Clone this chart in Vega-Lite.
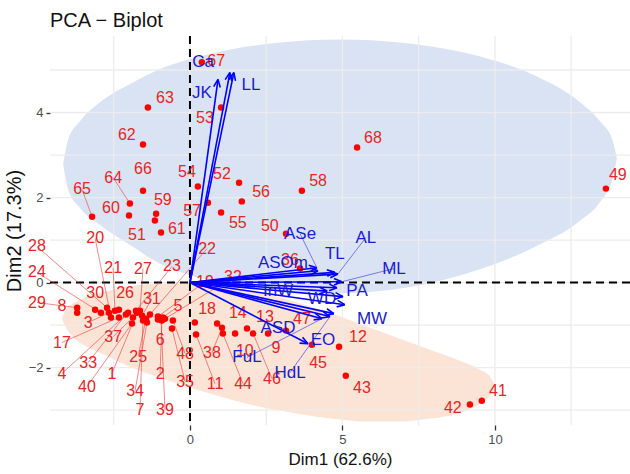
{
  "$schema": "https://vega.github.io/schema/vega-lite/v6.json",
  "autosize": "none",
  "width": 580,
  "height": 389,
  "padding": {"left": 50, "top": 36, "right": 0, "bottom": 49},
  "background": "white",
  "title": {"text": "PCA − Biplot", "anchor": "start", "frame": "group", "fontSize": 20, "fontWeight": "normal", "font": "Liberation Sans", "color": "#111111", "offset": 4},
  "config": {
    "view": {"stroke": null},
    "font": "Liberation Sans",
    "axis": {"grid": false, "domain": false, "labelColor": "#4d4d4d", "labelFontSize": 13, "labelFont": "Liberation Sans", "tickColor": "#333333", "tickWidth": 1.3, "titleFont": "Liberation Sans", "titleFontWeight": "normal", "titleColor": "#111111"}
  },
  "datasets": {
    "pts": [
      {"id": "1", "x": -1.74, "y": -0.71, "lx": -2.56, "ly": -2.14},
      {"id": "2", "x": -0.92, "y": -0.89, "lx": -0.98, "ly": -2.14},
      {"id": "3", "x": -2.66, "y": -0.71, "lx": -3.34, "ly": -0.94},
      {"id": "4", "x": -2.03, "y": -0.71, "lx": -4.20, "ly": -2.14},
      {"id": "5", "x": -0.89, "y": -0.82, "lx": -0.39, "ly": -0.56},
      {"id": "6", "x": -1.05, "y": -0.87, "lx": -0.98, "ly": -1.36},
      {"id": "7", "x": -1.54, "y": -0.89, "lx": -1.64, "ly": -2.99},
      {"id": "8", "x": -3.70, "y": -0.71, "lx": -4.20, "ly": -0.56},
      {"id": "9", "x": 2.56, "y": -1.2, "lx": 2.82, "ly": -1.53},
      {"id": "10", "x": 1.48, "y": -1.2, "lx": 1.8, "ly": -1.6},
      {"id": "11", "x": 0.2, "y": -1.22, "lx": 0.82, "ly": -2.38},
      {"id": "12", "x": 4.89, "y": -1.51, "lx": 5.51, "ly": -1.29},
      {"id": "13", "x": 1.87, "y": -1.08, "lx": 2.46, "ly": -0.8},
      {"id": "14", "x": 0.89, "y": -0.96, "lx": 1.57, "ly": -0.71},
      {"id": "17", "x": -2.33, "y": -0.82, "lx": -4.20, "ly": -1.41},
      {"id": "18", "x": 0.16, "y": -0.94, "lx": 0.56, "ly": -0.61},
      {"id": "19", "x": -1.05, "y": -0.80, "lx": 0.49, "ly": 0.02},
      {"id": "20", "x": -2.59, "y": -0.82, "lx": -3.11, "ly": 1.04},
      {"id": "21", "x": -2.46, "y": -0.66, "lx": -2.52, "ly": 0.35},
      {"id": "22", "x": -1.31, "y": -0.75, "lx": 0.56, "ly": 0.8},
      {"id": "23", "x": -1.77, "y": -0.66, "lx": -0.59, "ly": 0.38},
      {"id": "24", "x": -2.92, "y": -0.71, "lx": -5.02, "ly": 0.24},
      {"id": "25", "x": -1.44, "y": -0.85, "lx": -1.70, "ly": -1.74},
      {"id": "26", "x": -2.33, "y": -0.64, "lx": -2.13, "ly": -0.24},
      {"id": "27", "x": -1.64, "y": -0.66, "lx": -1.54, "ly": 0.33},
      {"id": "28", "x": -2.72, "y": -0.59, "lx": -5.02, "ly": 0.85},
      {"id": "29", "x": -3.70, "y": -0.59, "lx": -5.02, "ly": -0.47},
      {"id": "30", "x": -3.11, "y": -0.64, "lx": -3.11, "ly": -0.24},
      {"id": "31", "x": -1.57, "y": -0.78, "lx": -1.25, "ly": -0.38},
      {"id": "32", "x": -0.82, "y": -0.85, "lx": 1.41, "ly": 0.12},
      {"id": "33", "x": -2.10, "y": -0.75, "lx": -3.34, "ly": -1.88},
      {"id": "34", "x": -1.41, "y": -0.94, "lx": -1.80, "ly": -2.54},
      {"id": "35", "x": -0.59, "y": -1.08, "lx": -0.16, "ly": -2.33},
      {"id": "36", "x": 3.61, "y": 0.33, "lx": 3.28, "ly": 0.52},
      {"id": "37", "x": -1.87, "y": -0.82, "lx": -2.52, "ly": -1.27},
      {"id": "38", "x": 1.05, "y": -1.06, "lx": 0.72, "ly": -1.65},
      {"id": "39", "x": -0.95, "y": -0.85, "lx": -0.82, "ly": -2.99},
      {"id": "40", "x": -1.90, "y": -0.96, "lx": -3.38, "ly": -2.45},
      {"id": "41", "x": 9.57, "y": -2.78, "lx": 10.1, "ly": -2.54},
      {"id": "42", "x": 9.18, "y": -2.87, "lx": 8.62, "ly": -2.94},
      {"id": "43", "x": 5.11, "y": -2.19, "lx": 5.64, "ly": -2.47},
      {"id": "44", "x": 1.08, "y": -1.2, "lx": 1.74, "ly": -2.38},
      {"id": "45", "x": 4.0, "y": -1.46, "lx": 4.2, "ly": -1.88},
      {"id": "46", "x": 2.07, "y": -1.2, "lx": 2.69, "ly": -2.26},
      {"id": "47", "x": 3.15, "y": -1.13, "lx": 3.67, "ly": -0.85},
      {"id": "48", "x": -0.56, "y": -0.89, "lx": -0.16, "ly": -1.67},
      {"id": "49", "x": 13.64, "y": 2.21, "lx": 14.03, "ly": 2.52},
      {"id": "50", "x": 3.15, "y": 1.15, "lx": 2.62, "ly": 1.34},
      {"id": "51", "x": -1.15, "y": 1.46, "lx": -1.74, "ly": 1.13},
      {"id": "52", "x": 1.61, "y": 2.35, "lx": 1.05, "ly": 2.56},
      {"id": "53", "x": 1.02, "y": 4.12, "lx": 0.49, "ly": 3.86},
      {"id": "54", "x": 0.26, "y": 2.26, "lx": -0.1, "ly": 2.59},
      {"id": "55", "x": 1.02, "y": 1.65, "lx": 1.57, "ly": 1.39},
      {"id": "56", "x": 1.70, "y": 1.91, "lx": 2.33, "ly": 2.14},
      {"id": "57", "x": 0.59, "y": 1.88, "lx": 0.07, "ly": 1.69},
      {"id": "58", "x": 3.67, "y": 2.16, "lx": 4.2, "ly": 2.4},
      {"id": "59", "x": -1.11, "y": 1.62, "lx": -0.89, "ly": 1.95},
      {"id": "60", "x": -2.0, "y": 1.58, "lx": -2.59, "ly": 1.76},
      {"id": "61", "x": -0.95, "y": 1.18, "lx": -0.43, "ly": 1.27},
      {"id": "62", "x": -1.54, "y": 3.25, "lx": -2.07, "ly": 3.48},
      {"id": "63", "x": -1.38, "y": 4.12, "lx": -0.82, "ly": 4.33},
      {"id": "64", "x": -1.97, "y": 1.86, "lx": -2.52, "ly": 2.47},
      {"id": "65", "x": -3.21, "y": 1.55, "lx": -3.54, "ly": 2.19},
      {"id": "66", "x": -1.54, "y": 2.16, "lx": -1.54, "ly": 2.66},
      {"id": "67", "x": 0.39, "y": 5.18, "lx": 0.86, "ly": 5.22},
      {"id": "68", "x": 5.48, "y": 3.18, "lx": 6.0, "ly": 3.41}
    ],
    "vars": [
      {"name": "Ca", "x": 1.31, "y": 4.94, "lx": 0.43, "ly": 5.18},
      {"name": "JK", "x": 0.92, "y": 4.78, "lx": 0.39, "ly": 4.47},
      {"name": "LL", "x": 1.44, "y": 4.94, "lx": 2.0, "ly": 4.64},
      {"name": "ASe", "x": 4.16, "y": 0.35, "lx": 3.61, "ly": 1.15},
      {"name": "ASOm", "x": 4.2, "y": 0.28, "lx": 3.05, "ly": 0.47},
      {"name": "TL", "x": 4.75, "y": 0.24, "lx": 4.75, "ly": 0.68},
      {"name": "AL", "x": 4.85, "y": 0.2, "lx": 5.77, "ly": 1.06},
      {"name": "ML", "x": 4.98, "y": 0.02, "lx": 6.69, "ly": 0.33},
      {"name": "PA", "x": 4.82, "y": -0.12, "lx": 5.48, "ly": -0.19},
      {"name": "WD", "x": 5.02, "y": -0.33, "lx": 4.33, "ly": -0.38},
      {"name": "MW", "x": 5.08, "y": -0.52, "lx": 5.97, "ly": -0.85},
      {"name": "EO", "x": 4.72, "y": -0.73, "lx": 4.36, "ly": -1.36},
      {"name": "ASD", "x": 3.87, "y": -1.44, "lx": 2.89, "ly": -1.08},
      {"name": "FuL", "x": 4.33, "y": -0.85, "lx": 1.87, "ly": -1.76},
      {"name": "HdL", "x": 4.59, "y": -0.80, "lx": 3.28, "ly": -2.12},
      {"name": "InW", "x": 4.5, "y": -0.2, "lx": 2.89, "ly": -0.19}
    ],
    "blue": [
      {"x": -4.16, "y": 2.78, "yl": 2.78},
      {"x": -4.0, "y": 3.35, "yl": 2.2},
      {"x": -3.6, "y": 3.8, "yl": 1.75},
      {"x": -2.94, "y": 4.25, "yl": 1.35},
      {"x": -2.0, "y": 4.66, "yl": 0.9},
      {"x": -1.0, "y": 5.02, "yl": 0.45},
      {"x": 0.38, "y": 5.33, "yl": 0.1},
      {"x": 2.57, "y": 5.62, "yl": -0.15},
      {"x": 4.92, "y": 5.72, "yl": -0.25},
      {"x": 7.27, "y": 5.62, "yl": -0.1},
      {"x": 9.46, "y": 5.33, "yl": 0.3},
      {"x": 11.34, "y": 4.86, "yl": 0.85},
      {"x": 12.78, "y": 4.25, "yl": 1.45},
      {"x": 13.455, "y": 3.79, "yl": 1.9},
      {"x": 13.86, "y": 3.35, "yl": 2.45},
      {"x": 14.0, "y": 2.92, "yl": 2.92}
    ],
    "orange": [
      {"x": -4.20, "y": -0.85, "yl": -0.85},
      {"x": -4.05, "y": -0.62, "yl": -1.08},
      {"x": -3.77, "y": -0.47, "yl": -1.32},
      {"x": -3.40, "y": -0.34, "yl": -1.50},
      {"x": -2.95, "y": -0.24, "yl": -1.65},
      {"x": -1.97, "y": -0.09, "yl": -1.98},
      {"x": -0.98, "y": -0.02, "yl": -2.24},
      {"x": 0, "y": -0.02, "yl": -2.47},
      {"x": 0.98, "y": -0.07, "yl": -2.68},
      {"x": 1.97, "y": -0.19, "yl": -2.87},
      {"x": 2.95, "y": -0.35, "yl": -3.01},
      {"x": 3.93, "y": -0.56, "yl": -3.13},
      {"x": 4.92, "y": -0.80, "yl": -3.22},
      {"x": 5.90, "y": -1.06, "yl": -3.27},
      {"x": 6.89, "y": -1.32, "yl": -3.27},
      {"x": 7.87, "y": -1.58, "yl": -3.20},
      {"x": 8.85, "y": -1.84, "yl": -3.06},
      {"x": 9.51, "y": -2.05, "yl": -2.85},
      {"x": 9.84, "y": -2.21, "yl": -2.66},
      {"x": 10.03, "y": -2.45, "yl": -2.45}
    ],
    "gx": [{"v": -2.5}, {"v": 0}, {"v": 2.5}, {"v": 5}, {"v": 7.5}, {"v": 10}, {"v": 12.5}],
    "gy": [{"v": -3}, {"v": -2}, {"v": -1}, {"v": 0}, {"v": 1}, {"v": 2}, {"v": 3}, {"v": 4}, {"v": 5}],
    "zero": [{"v": 0}]
  },
  "layer": [
    {
      "data": {"name": "blue"},
      "mark": {"type": "area", "color": "#dae3f3", "interpolate": "monotone", "opacity": 1},
      "encoding": {
        "x": {"field": "x", "type": "quantitative", "scale": {"domain": [-4.59, 14.43], "nice": false, "zero": false},
          "axis": {"values": [0, 5, 10], "title": "Dim1 (62.6%)", "titleFontSize": 17, "tickSize": 5, "labelPadding": 3, "titlePadding": 5}},
        "y": {"field": "y", "type": "quantitative", "scale": {"domain": [-3.35, 5.8], "nice": false, "zero": false},
          "axis": {"values": [-2, 0, 2, 4], "title": "Dim2 (17.3%)", "titleFontSize": 20, "tickSize": 4, "labelPadding": 3, "titlePadding": 4}},
        "y2": {"field": "yl"}
      }
    },
    {
      "data": {"name": "orange"},
      "mark": {"type": "area", "color": "#fbe3d5", "interpolate": "monotone", "opacity": 1},
      "encoding": {
        "x": {"field": "x", "type": "quantitative", "scale": {"domain": [-4.59, 14.43], "nice": false, "zero": false},
          "axis": {"values": [0, 5, 10], "title": "Dim1 (62.6%)", "titleFontSize": 17, "tickSize": 5, "labelPadding": 3, "titlePadding": 5}},
        "y": {"field": "y", "type": "quantitative", "scale": {"domain": [-3.35, 5.8], "nice": false, "zero": false},
          "axis": {"values": [-2, 0, 2, 4], "title": "Dim2 (17.3%)", "titleFontSize": 20, "tickSize": 4, "labelPadding": 3, "titlePadding": 4}},
        "y2": {"field": "yl"}
      }
    },
    {
      "data": {"name": "gx"},
      "mark": {"type": "rule", "color": "#ececec", "strokeWidth": 1.3},
      "encoding": {
        "x": {"field": "v", "type": "quantitative", "scale": {"domain": [-4.59, 14.43], "nice": false, "zero": false},
          "axis": {"values": [0, 5, 10], "title": "Dim1 (62.6%)", "titleFontSize": 17, "tickSize": 5, "labelPadding": 3, "titlePadding": 5}}
      }
    },
    {
      "data": {"name": "gy"},
      "mark": {"type": "rule", "color": "#ececec", "strokeWidth": 1.3},
      "encoding": {
        "y": {"field": "v", "type": "quantitative", "scale": {"domain": [-3.35, 5.8], "nice": false, "zero": false},
          "axis": {"values": [-2, 0, 2, 4], "title": "Dim2 (17.3%)", "titleFontSize": 20, "tickSize": 4, "labelPadding": 3, "titlePadding": 4}}
      }
    },
    {
      "data": {"name": "zero"},
      "mark": {"type": "rule", "color": "#000000", "strokeWidth": 2, "strokeDash": [8, 5]},
      "encoding": {
        "x": {"field": "v", "type": "quantitative", "scale": {"domain": [-4.59, 14.43], "nice": false, "zero": false},
          "axis": {"values": [0, 5, 10], "title": "Dim1 (62.6%)", "titleFontSize": 17, "tickSize": 5, "labelPadding": 3, "titlePadding": 5}}
      }
    },
    {
      "data": {"name": "zero"},
      "mark": {"type": "rule", "color": "#000000", "strokeWidth": 2, "strokeDash": [8, 5]},
      "encoding": {
        "y": {"field": "v", "type": "quantitative", "scale": {"domain": [-3.35, 5.8], "nice": false, "zero": false},
          "axis": {"values": [-2, 0, 2, 4], "title": "Dim2 (17.3%)", "titleFontSize": 20, "tickSize": 4, "labelPadding": 3, "titlePadding": 4}}
      }
    },
    {
      "data": {"name": "pts"},
      "transform": [{"filter": {"field": "id", "oneOf": ["1","2","3","4","5","7","11","17","19","20","21","22","23","24","25","27","28","29","31","32","33","34","35","37","38","39","40","44","46","48","64","65"]}}],
      "mark": {"type": "rule", "color": "#e03a3a", "strokeWidth": 0.8, "opacity": 0.75},
      "encoding": {
        "x": {"field": "x", "type": "quantitative", "scale": {"domain": [-4.59, 14.43], "nice": false, "zero": false},
          "axis": {"values": [0, 5, 10], "title": "Dim1 (62.6%)", "titleFontSize": 17, "tickSize": 5, "labelPadding": 3, "titlePadding": 5}},
        "y": {"field": "y", "type": "quantitative", "scale": {"domain": [-3.35, 5.8], "nice": false, "zero": false},
          "axis": {"values": [-2, 0, 2, 4], "title": "Dim2 (17.3%)", "titleFontSize": 20, "tickSize": 4, "labelPadding": 3, "titlePadding": 4}},
        "x2": {"field": "lx"},
        "y2": {"field": "ly"}
      }
    },
    {
      "data": {"name": "pts"},
      "mark": {"type": "circle", "color": "#ff0000", "size": 42, "opacity": 1},
      "encoding": {
        "x": {"field": "x", "type": "quantitative", "scale": {"domain": [-4.59, 14.43], "nice": false, "zero": false},
          "axis": {"values": [0, 5, 10], "title": "Dim1 (62.6%)", "titleFontSize": 17, "tickSize": 5, "labelPadding": 3, "titlePadding": 5}},
        "y": {"field": "y", "type": "quantitative", "scale": {"domain": [-3.35, 5.8], "nice": false, "zero": false},
          "axis": {"values": [-2, 0, 2, 4], "title": "Dim2 (17.3%)", "titleFontSize": 20, "tickSize": 4, "labelPadding": 3, "titlePadding": 4}}
      }
    },
    {
      "data": {"name": "pts"},
      "mark": {"type": "text", "color": "#e32626", "fontSize": 16, "font": "Liberation Sans", "align": "center", "baseline": "middle"},
      "encoding": {
        "x": {"field": "lx", "type": "quantitative", "scale": {"domain": [-4.59, 14.43], "nice": false, "zero": false},
          "axis": {"values": [0, 5, 10], "title": "Dim1 (62.6%)", "titleFontSize": 17, "tickSize": 5, "labelPadding": 3, "titlePadding": 5}},
        "y": {"field": "ly", "type": "quantitative", "scale": {"domain": [-3.35, 5.8], "nice": false, "zero": false},
          "axis": {"values": [-2, 0, 2, 4], "title": "Dim2 (17.3%)", "titleFontSize": 20, "tickSize": 4, "labelPadding": 3, "titlePadding": 4}},
        "text": {"field": "id"}
      }
    },
    {
      "data": {"name": "vars"},
      "mark": {"type": "rule", "color": "#0000ff", "strokeWidth": 1.6},
      "encoding": {
        "x": {"field": "x", "type": "quantitative", "scale": {"domain": [-4.59, 14.43], "nice": false, "zero": false},
          "axis": {"values": [0, 5, 10], "title": "Dim1 (62.6%)", "titleFontSize": 17, "tickSize": 5, "labelPadding": 3, "titlePadding": 5}},
        "y": {"field": "y", "type": "quantitative", "scale": {"domain": [-3.35, 5.8], "nice": false, "zero": false},
          "axis": {"values": [-2, 0, 2, 4], "title": "Dim2 (17.3%)", "titleFontSize": 20, "tickSize": 4, "labelPadding": 3, "titlePadding": 4}},
        "x2": {"datum": 0},
        "y2": {"datum": 0}
      }
    },
    {
      "data": {"name": "vars"},
      "transform": [{"calculate": "atan2(datum.x * 30.5, datum.y * 42.5) * 180 / PI", "as": "ang"}],
      "mark": {"type": "point", "shape": "M0,0L-0.55,1.3M0,0L0.55,1.3", "filled": false, "stroke": "#0000ff", "strokeWidth": 1.6, "size": 144, "opacity": 1},
      "encoding": {
        "x": {"field": "x", "type": "quantitative", "scale": {"domain": [-4.59, 14.43], "nice": false, "zero": false},
          "axis": {"values": [0, 5, 10], "title": "Dim1 (62.6%)", "titleFontSize": 17, "tickSize": 5, "labelPadding": 3, "titlePadding": 5}},
        "y": {"field": "y", "type": "quantitative", "scale": {"domain": [-3.35, 5.8], "nice": false, "zero": false},
          "axis": {"values": [-2, 0, 2, 4], "title": "Dim2 (17.3%)", "titleFontSize": 20, "tickSize": 4, "labelPadding": 3, "titlePadding": 4}},
        "angle": {"field": "ang", "type": "quantitative", "scale": null}
      }
    },
    {
      "data": {"name": "vars"},
      "transform": [{"filter": {"field": "name", "oneOf": ["ASe", "AL", "ML", "FuL", "HdL"]}}],
      "mark": {"type": "rule", "color": "#3b3bd6", "strokeWidth": 0.8, "opacity": 0.8},
      "encoding": {
        "x": {"field": "x", "type": "quantitative", "scale": {"domain": [-4.59, 14.43], "nice": false, "zero": false},
          "axis": {"values": [0, 5, 10], "title": "Dim1 (62.6%)", "titleFontSize": 17, "tickSize": 5, "labelPadding": 3, "titlePadding": 5}},
        "y": {"field": "y", "type": "quantitative", "scale": {"domain": [-3.35, 5.8], "nice": false, "zero": false},
          "axis": {"values": [-2, 0, 2, 4], "title": "Dim2 (17.3%)", "titleFontSize": 20, "tickSize": 4, "labelPadding": 3, "titlePadding": 4}},
        "x2": {"field": "lx"},
        "y2": {"field": "ly"}
      }
    },
    {
      "data": {"name": "vars"},
      "mark": {"type": "text", "color": "#1c1ccc", "fontSize": 17, "font": "Liberation Sans", "align": "center", "baseline": "middle"},
      "encoding": {
        "x": {"field": "lx", "type": "quantitative", "scale": {"domain": [-4.59, 14.43], "nice": false, "zero": false},
          "axis": {"values": [0, 5, 10], "title": "Dim1 (62.6%)", "titleFontSize": 17, "tickSize": 5, "labelPadding": 3, "titlePadding": 5}},
        "y": {"field": "ly", "type": "quantitative", "scale": {"domain": [-3.35, 5.8], "nice": false, "zero": false},
          "axis": {"values": [-2, 0, 2, 4], "title": "Dim2 (17.3%)", "titleFontSize": 20, "tickSize": 4, "labelPadding": 3, "titlePadding": 4}},
        "text": {"field": "name"}
      }
    }
  ]
}
